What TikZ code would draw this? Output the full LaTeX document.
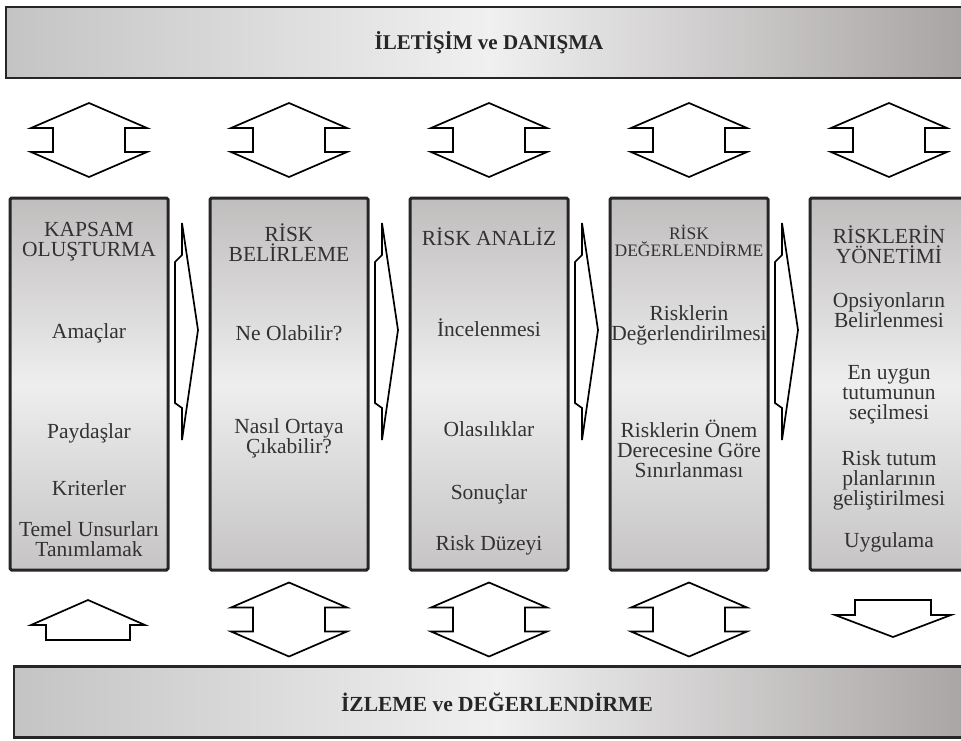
\documentclass[tikz,border=0pt]{standalone}
\usepackage{fontspec}
\setmainfont{Liberation Serif}
\usetikzlibrary{positioning}

\definecolor{bandleft}{RGB}{196,196,196}
\definecolor{bandmid}{RGB}{240,240,240}
\definecolor{bandright}{RGB}{168,163,163}
\definecolor{stagetop}{RGB}{192,189,189}
\definecolor{stagemid}{RGB}{238,238,238}
\definecolor{stagebot}{RGB}{198,196,196}
\definecolor{ink}{RGB}{50,50,50}

\tikzset{
  bar/.style={draw=black!85, line width=2.6pt, inner sep=0pt, outer sep=0pt,
    minimum width=966pt, minimum height=71pt,
    left color=bandleft, right color=bandright, middle color=bandmid,
    text=black!85, font=\bfseries\fontsize{21}{21}\selectfont},
  stage/.style={draw=black!85, line width=3pt, rounded corners=1.5pt,
    inner sep=0pt, outer sep=0pt, minimum width=158pt, minimum height=372pt,
    top color=stagetop, bottom color=stagebot, middle color=stagemid},
  item/.style={text=ink, align=center, inner sep=0pt,
    font=\fontsize{21.5}{20}\selectfont},
  smallitem/.style={item, font=\fontsize{17.5}{17}\selectfont},
  arrowline/.style={draw=black, line width=1.7pt, fill=white, line join=miter},
  dblblock/.pic={
    \path[arrowline] (0,-37) -- (58,-12) -- (36,-12) -- (36,12) -- (58,12)
      -- (0,37) -- (-58,12) -- (-36,12) -- (-36,-12) -- (-58,-12) -- cycle;},
  fwdblock/.pic={
    \path[arrowline] (7,-107) -- (23,0) -- (7,110) -- (7,78) -- (0,73)
      -- (0,-68) -- (7,-75) -- cycle;},
  upblock/.pic={
    \path[arrowline] (0,-25) -- (57,0) -- (42,0) -- (42,15) -- (-42,15)
      -- (-42,0) -- (-57,0) -- cycle;},
  downblock/.pic={
    \path[arrowline] (-38,-15) -- (38,-15) -- (38,0) -- (58,0) -- (0,22)
      -- (-58,0) -- (-38,0) -- cycle;}
}

\begin{document}
\begin{tikzpicture}[x=1pt,y=-1pt,node distance=200pt,on grid]
	\useasboundingbox (0,0) rectangle (961,740);
	\clip (0,0) rectangle (961,740);

	% bands
	\node[bar] (iletisim) at (489,42.5) {İLETİŞİM ve DANIŞMA};
	\node[bar, font=\bfseries\fontsize{21.5}{22}\selectfont] (izleme) at (497,702) {\raisebox{-4pt}{İZLEME ve DEĞERLENDİRME}};

	% stages
	\node[stage] (kapsam) at (89,384) {};
	\node[stage] (belirleme) [right=of kapsam] {};
	\node[stage] (analiz) [right=of belirleme] {};
	\node[stage] (degerlendirme) [right=of analiz] {};
	\node[stage] (yonetim) [right=of degerlendirme] {};

	\node[item] (kapsam_h) [below=44pt of kapsam.north, anchor=center] {KAPSAM\\OLUŞTURMA};
	\node[item] (amaclar) [below=135pt of kapsam.north, anchor=center] {Amaçlar};
	\node[item] (paydaslar) [below=235pt of kapsam.north, anchor=center] {Paydaşlar};
	\node[item] (kriterler) [below=290pt of kapsam.north, anchor=center] {Kriterler};
	\node[item] (unsurlar) [below=341pt of kapsam.north, anchor=center] {Temel Unsurları\\Tanımlamak};

	\node[item] (belirleme_h) [below=45pt of belirleme.north, anchor=center] {RİSK\\BELİRLEME};
	\node[item] (ne) [below=135pt of belirleme.north, anchor=center] {Ne Olabilir?};
	\node[item] (nasil) [below=240pt of belirleme.north, anchor=center] {Nasıl Ortaya\\Çıkabilir?};

	\node[item] (analiz_h) [below=39pt of analiz.north, anchor=center] {RİSK ANALİZ};
	\node[item] (inceleme) [below=130pt of analiz.north, anchor=center] {İncelenmesi};
	\node[item] (olasilik) [below=231pt of analiz.north, anchor=center] {Olasılıklar};
	\node[item] (sonuc) [below=296pt of analiz.north, anchor=center] {Sonuçlar};
	\node[item] (duzey) [below=347pt of analiz.north, anchor=center] {Risk Düzeyi};

	\node[smallitem] (degerlendirme_h) [below=43pt of degerlendirme.north, anchor=center] {RİSK\\DEĞERLENDİRME};
	\node[item] (riskdeger) [below=127pt of degerlendirme.north, anchor=center] {Risklerin\\Değerlendirilmesi};
	\node[item] (onem) [below=251pt of degerlendirme.north, anchor=center] {Risklerin Önem\\Derecesine Göre\\Sınırlanması};

	\node[item] (yonetim_h) [below=47pt of yonetim.north, anchor=center] {RİSKLERİN\\YÖNETİMİ};
	\node[item] (opsiyon) [below=112pt of yonetim.north, anchor=center] {Opsiyonların\\Belirlenmesi};
	\node[item] (uygun) [below=197pt of yonetim.north, anchor=center] {En uygun\\tutumunun\\seçilmesi};
	\node[item] (plan) [below=282pt of yonetim.north, anchor=center] {Risk tutum\\planlarının\\geliştirilmesi};
	\node[item] (uygulama) [below=344pt of yonetim.north, anchor=center] {Uygulama};

	% arrows to the top band
	\pic at (89,140) {dblblock};
	\pic at (289,140) {dblblock};
	\pic at (489,140) {dblblock};
	\pic at (689,140) {dblblock};
	\pic at (889,140) {dblblock};

	% arrows between stages
	\pic at (175,330) {fwdblock};
	\pic at (375,330) {fwdblock};
	\pic at (575,330) {fwdblock};
	\pic at (775,330) {fwdblock};

	% arrows to the bottom band
	\pic at (88,625) {upblock};
	\pic at (289,619.5) {dblblock};
	\pic at (489,619.5) {dblblock};
	\pic at (689,619.5) {dblblock};
	\pic at (893,615) {downblock};
\end{tikzpicture}
\end{document}
